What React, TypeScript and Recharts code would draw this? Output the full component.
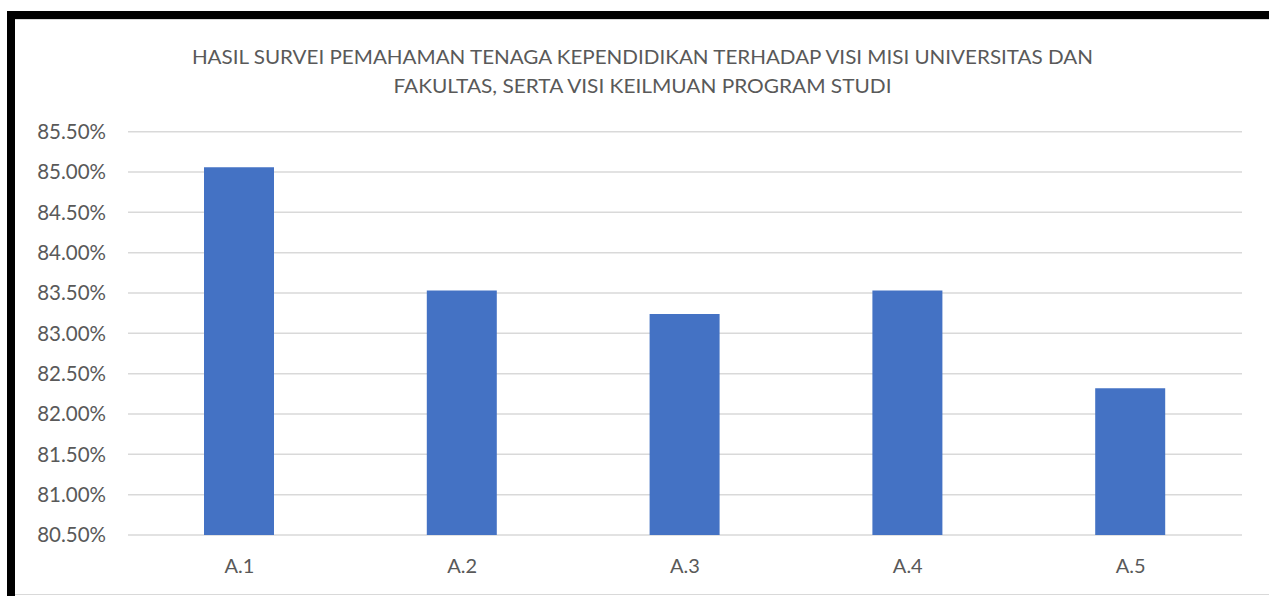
import React from 'react';
import { BarChart, Bar, XAxis, YAxis, CartesianGrid } from 'recharts';

const categories = ['A.1', 'A.2', 'A.3', 'A.4', 'A.5'];
const values = [85.06, 83.53, 83.24, 83.53, 82.32];
const yTicks = [80.5, 81, 81.5, 82, 82.5, 83, 83.5, 84, 84.5, 85, 85.5];
const titleLines = [
  'HASIL SURVEI PEMAHAMAN TENAGA KEPENDIDIKAN TERHADAP VISI MISI UNIVERSITAS DAN',
  'FAKULTAS, SERTA VISI KEILMUAN PROGRAM STUDI',
];

const data = categories.map((c, i) => ({ name: c, value: values[i] }));

const FONT = 'Lato, "Open Sans", sans-serif';
const TEXT = '#595959';

export default function App() {
  return (
    <div style={{ position: 'absolute', left: 0, top: 0, width: 1269, height: 596, background: '#fff', overflow: 'hidden' }}>
      {/* black frame */}
      <div style={{ position: 'absolute', left: 7, top: 11, width: 1262, height: 8, background: '#000' }} />
      <div style={{ position: 'absolute', left: 7, top: 11, width: 8, height: 585, background: '#000' }} />
      <div style={{ position: 'absolute', left: 15, top: 19, width: 1254, height: 1, background: '#d9d9d9' }} />
      <div style={{ position: 'absolute', left: 15, top: 594, width: 1254, height: 1, background: '#d9d9d9' }} />
      <div style={{ position: 'absolute', left: 0, top: 0 }}>
        <BarChart width={1269} height={596} data={data} margin={{ top: 131.7, right: 27, bottom: 21, left: 38 }}>
          <CartesianGrid vertical={false} stroke="#d9d9d9" strokeWidth={1.5} />
          <XAxis
            dataKey="name"
            axisLine={false}
            tickLine={false}
            tickSize={0}
            tickMargin={24}
            height={40}
            tick={{ fill: TEXT, fontSize: 20, fontFamily: FONT }}
          />
          <YAxis
            domain={[80.5, 85.5]}
            ticks={yTicks}
            allowDataOverflow
            axisLine={false}
            tickLine={false}
            tickSize={0}
            tickMargin={22}
            width={90}
            tickFormatter={(v: number) => v.toFixed(2) + '%'}
            tick={{ fill: TEXT, fontSize: 20.5, fontFamily: FONT }}
          />
          <Bar dataKey="value" fill="#4472c4" barSize={70} isAnimationActive={false} />
        </BarChart>
      </div>
      <svg width={1269} height={596} style={{ position: 'absolute', left: 0, top: 0, pointerEvents: 'none' }}>
        <text x={642.4} y={64} textAnchor="middle" fill={TEXT} fontSize={19.5} fontFamily={FONT} textLength={901} lengthAdjust="spacingAndGlyphs">
          {titleLines[0]}
        </text>
        <text x={642.5} y={93.3} textAnchor="middle" fill={TEXT} fontSize={19.5} fontFamily={FONT} textLength={498} lengthAdjust="spacingAndGlyphs">
          {titleLines[1]}
        </text>
      </svg>
    </div>
  );
}
